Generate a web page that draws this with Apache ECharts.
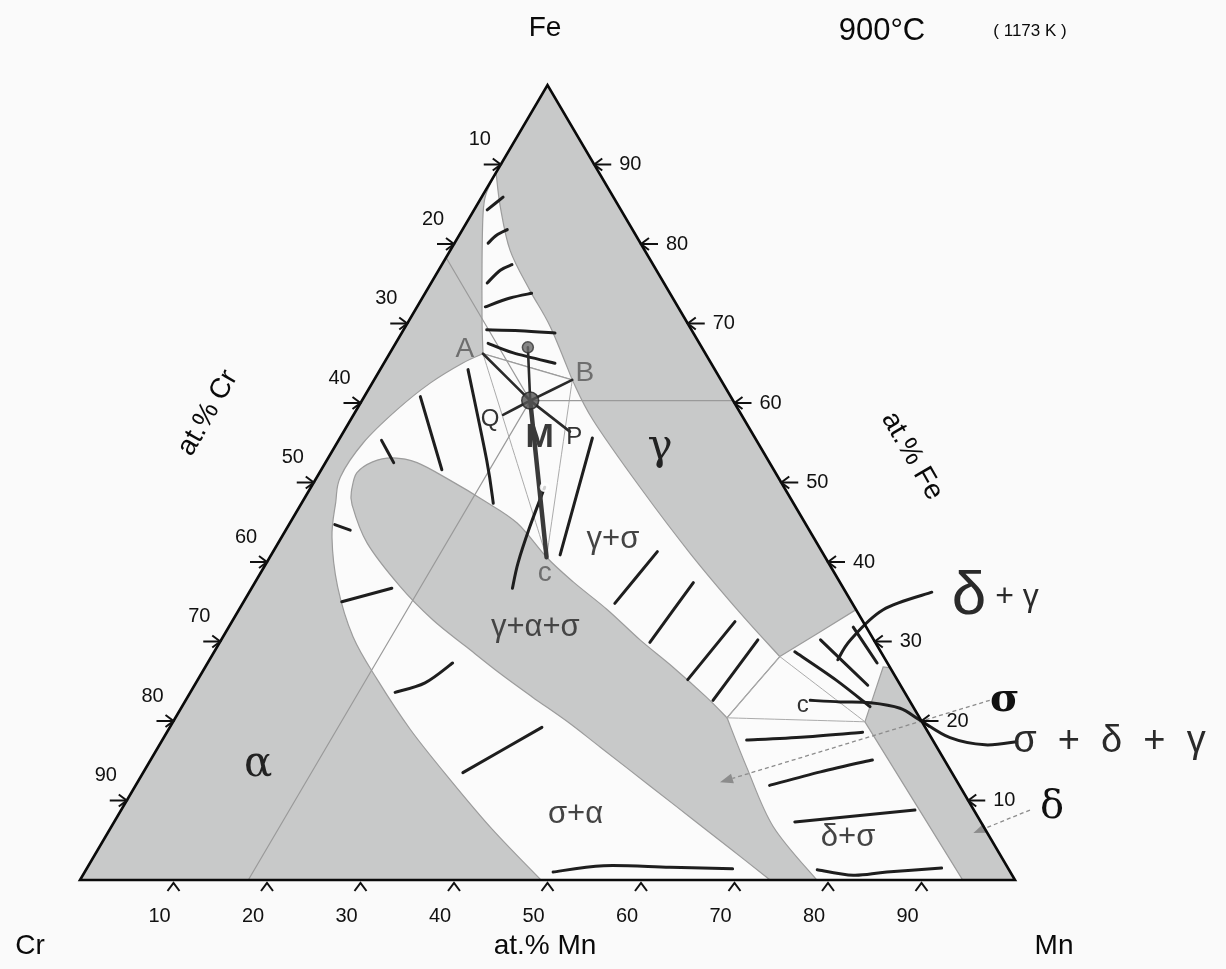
<!DOCTYPE html>
<html>
<head>
<meta charset="utf-8">
<script src="https://cdn.jsdelivr.net/npm/echarts@6/dist/echarts.min.js"></script>
<style>
html,body{margin:0;padding:0;background:#fafafa}
#chart{width:1226px;height:969px}
</style>
</head>
<body>
<div id="chart"></div>
<script>
// 成分点都写成 [at.% Mn, at.% Fe]，Cr = 100 - Mn - Fe
const edgeTicks = [10, 20, 30, 40, 50, 60, 70, 80, 90];

const ptA = [10, 66.2], ptB = [21.2, 62.9], ptC = [29.6, 40.6], ptM = [18, 60.3];
const sigmaCorner = [59, 20.4], gammaCorner = [60.8, 28.1], deltaCorner = [74, 19.9];
const deltaApex = [72.5, 26.8], deltaTop = [73.3, 26.7], gammaTop = [66, 34];

// α+γ 两相区
const alphaGammaLeft = [[0, 89], [0.3, 86.2], [1.3, 83.6], [4.0, 78.0], [7.8, 70.4], [10, 66.2]];
const alphaGammaRight = [[0, 89], [2.6, 84.7], [6.4, 79.2], [11.0, 74.2], [15.5, 69.6], [21.2, 62.9]];
// α 相边界（A 到 Cr-Mn 边）
const alphaEdge = [[10, 66.2], [8.4, 65.0], [6.2, 62.5], [4.3, 59.1], [2.8, 55.0], [2.5, 50.7], [3.6, 47.5],
  [5.4, 43.1], [9.1, 36.9], [13.9, 30.6], [19.2, 25.2], [25.9, 18.9], [33.3, 12.6], [41.0, 6.3], [49.3, 0]];
// σ 相边界
const sigmaLower = [[73.8, 0], [67.5, 4.0], [61.3, 7.9], [55.1, 11.8], [47.3, 16.7], [42.2, 19.9], [36.9, 23.0],
  [31.9, 26.0], [26.7, 29.3], [21.4, 32.7], [15.8, 36.9], [9.5, 42.4], [5.5, 47.2], [4.5, 49.1]];
const sigmaUpper = [[4.5, 49.1], [4.0, 51.2], [5.0, 52.6], [6.9, 53.1], [9.8, 52.5], [14.4, 50.3], [19.2, 47.8],
  [24.3, 44.9], [29.6, 40.6], [34.0, 37.5], [39.4, 34.0], [44.8, 30.2], [50.0, 26.8], [55.5, 23.0], [59, 20.4]];
const sigmaRight = [[59, 20.4], [64.2, 14.2], [70.8, 6.7], [78.8, 0]];
// γ 相边界（B 到三相点）
const gammaEdge = [[21.2, 62.9], [25.9, 57.9], [35.2, 49.4], [44.7, 41.1], [53.8, 33.6], [60.8, 28.1]];

// 手画的连结线
const handStrokes = [
  [[1.4, 84.3], [2.3, 85.9]],
  [[3.6, 80.1], [4.0, 81.1], [4.8, 81.8]],
  [[6.0, 75.1], [6.6, 76.7], [7.5, 77.4]],
  [[7.3, 72.1], [9.4, 73.2], [11.4, 73.8]],
  [[8.9, 69.2], [12.5, 69.1], [16.4, 68.8]],
  [[9.9, 67.5], [13.2, 66.3], [18.3, 65.0]],
  [[9.4, 64.2], [17.1, 52.8], [20.5, 47.4]],
  [[6.0, 60.8], [12.9, 51.6]],
  [[4.6, 55.3], [7.3, 52.5]],
  [[4.9, 44.7], [6.9, 44.0]],
  [[10.5, 35.0], [15.0, 36.7]],
  [[21.9, 23.6], [24.5, 24.8], [26.2, 27.3]],
  [[34.2, 13.5], [39.8, 19.2]],
  [[50.1, 1.0], [55.1, 1.8], [62.3, 1.6], [69.1, 1.4]],
  [[27.0, 55.6], [30.9, 40.9]],
  [[41.1, 41.3], [39.8, 34.8]],
  [[46.9, 37.4], [46.0, 29.9]],
  [[53.8, 32.5], [52.4, 25.2]],
  [[57.4, 30.2], [56.4, 22.6]],
  [[64.1, 30.2], [72.0, 24.5]],
  [[62.1, 28.7], [68.2, 25.2], [73.6, 21.8]],
  [[66.8, 31.8], [71.6, 27.3]],
  [[62.5, 17.6], [68.5, 18.0], [74.4, 18.6]],
  [[67.8, 11.9], [72.4, 13.6], [77.2, 15.1]],
  [[72.8, 7.3], [84.9, 8.8]],
  [[78.2, 1.3], [82.4, 0.6], [85.8, 1.0], [91.4, 1.5]],
  [[73.0, 36.2], [68.9, 34.0], [67.3, 30.2], [67.2, 27.7]],
  [[66.8, 22.6], [70.1, 22.4], [73.4, 22.3], [76.9, 21.6], [79.8, 20.1], [84.1, 17.9], [88.3, 17.0], [91.5, 17.4]],
  [[25.0, 49.4], [25.9, 44.4], [26.9, 39.9], [27.9, 36.7]]
];
// M 点连出的线
const mStrokes = [[ptM, ptA], [ptM, ptB], [ptM, [14.4, 67]], [ptM, [16.0, 58.5]], [ptM, [24.2, 56.4]]];
const mToC = [[ptM, ptC]];
// 读数用的细线
const guideLines = [[ptM, [39.7, 60.3]], [ptM, [18, 0]], [ptM, [0, 78.3]]];
const tieTriangles = [[ptA, ptC], [ptB, ptC], [gammaCorner, deltaCorner], [sigmaCorner, deltaCorner], [sigmaCorner, gammaCorner]];
const dottedArrows = [[[86, 22.6], [62.3, 12.3]], [[97.2, 8.8], [92.6, 5.9]]];

const printedLabels = [[11.8, 14.5, 'α'], [34.9, 54.3, 'γ']];
const printedSigma = [[87.6, 22.6, 'σ']];
const printedDelta = [[99.4, 9.1, 'δ']];
const letterLabels = [[7.8, 66.7, 'A'], [22.1, 63.8, 'B'], [30.4, 38.6, 'c']];
const smallHand = [[14.9, 57.9, 'Q'], [25.0, 55.7, 'P'], [66.3, 22.0, 'c']];
const phaseHand = [[35.6, 42.8, 'γ+σ'], [32.8, 31.8, 'γ+α+σ'], [48.9, 8.2, 'σ+α'], [79.5, 5.3, 'δ+σ']];
const outerHand = [[101.4, 17.4, 'σ  +  δ  +  γ']];
const deltaGammaLabel = [[80.1, 35.6, '{a|δ}{b| + γ}']];
const mLabel = [[21.3, 55.7, 'M']];

const GRAY = '#c8c9c9', WHITE = '#fbfbfb', EDGE = '#9c9c9c', INK = '#1e1e1e';
const S3 = Math.sqrt(3) / 2;
const toXY = p => [p[0] + p[1] / 2, p[1] * S3];

function splinePath(pts) {
  let d = '';
  for (let i = 0; i < pts.length - 1; i++) {
    const p0 = pts[i - 1] || pts[i], p1 = pts[i], p2 = pts[i + 1], p3 = pts[i + 2] || p2;
    d += ' C' + [p1[0] + (p2[0] - p0[0]) / 6, p1[1] + (p2[1] - p0[1]) / 6,
      p2[0] - (p3[0] - p1[0]) / 6, p2[1] - (p3[1] - p1[1]) / 6, p2[0], p2[1]]
      .map(v => v.toFixed(2)).join(' ');
  }
  return d;
}
function curvesPath(api, curves, close) {
  let d = '';
  curves.forEach((c, k) => {
    const pts = c.map(p => api.coord(toXY(p)));
    d += (k ? ' L' : 'M') + pts[0][0].toFixed(2) + ' ' + pts[0][1].toFixed(2) + splinePath(pts);
  });
  return close ? d + ' Z' : d;
}
function pathSeries(shapes, style, close, z) {
  return {
    type: 'custom', coordinateSystem: 'cartesian2d', silent: true, z: z,
    data: shapes.map((s, i) => [50, 40, i]),
    renderItem: (params, api) => ({
      type: 'path',
      shape: { pathData: curvesPath(api, shapes[params.dataIndex], close) },
      style: style
    })
  };
}
function textSeries(items, style, z) {
  return {
    type: 'custom', coordinateSystem: 'cartesian2d', silent: true, z: z || 40,
    data: items.map(t => toXY(t)),
    renderItem: (params, api) => {
      const p = api.coord([api.value(0), api.value(1)]);
      return { type: 'text', x: p[0], y: p[1],
        style: Object.assign({ text: items[params.dataIndex][2], align: 'center', verticalAlign: 'middle' }, style) };
    }
  };
}
function tickSeries(points, draw) {
  return {
    type: 'custom', coordinateSystem: 'cartesian2d', silent: true, z: 35,
    data: points.map(p => toXY(p)),
    renderItem: (params, api) => draw(api.coord([api.value(0), api.value(1)]), edgeTicks[params.dataIndex])
  };
}
const tickLine = { stroke: '#111', lineWidth: 2, fill: 'none' };
const tickFont = { font: '20px "Liberation Sans", Arial, sans-serif', fill: '#111', align: 'center', verticalAlign: 'middle' };

const triangle = [[[0, 0], [100, 0]], [[100, 0], [0, 100]], [[0, 100], [0, 0]]];
const regionStyle = { fill: WHITE, stroke: EDGE, lineWidth: 1.2 };

const series = [
  pathSeries([triangle], { fill: GRAY }, true, 1),
  pathSeries([[alphaGammaLeft, [ptA, ptB], alphaGammaRight.slice().reverse()]], regionStyle, true, 2),
  pathSeries([[alphaEdge, [[49.3, 0], [73.8, 0]], sigmaLower, sigmaUpper, [sigmaCorner, gammaCorner],
    gammaEdge.slice().reverse(), [ptB, ptA]]], regionStyle, true, 3),
  pathSeries([[[gammaCorner, gammaTop], [gammaTop, deltaTop], [deltaTop, deltaApex], [deltaApex, deltaCorner],
    [deltaCorner, [94.4, 0]], [[94.4, 0], [78.8, 0]], sigmaRight.slice().reverse(), [sigmaCorner, gammaCorner]]], regionStyle, true, 4),
  pathSeries(tieTriangles.map(s => [s]), { fill: 'none', stroke: '#ababab', lineWidth: 1 }, false, 5),
  pathSeries(guideLines.map(s => [s]), { fill: 'none', stroke: '#9a9a9a', lineWidth: 1.2 }, false, 6),
  {
    type: 'custom', coordinateSystem: 'cartesian2d', silent: true, z: 7,
    data: dottedArrows.map((a, i) => [50, 40, i]),
    renderItem: (params, api) => {
      const a = dottedArrows[params.dataIndex];
      const p = api.coord(toXY(a[0])), q = api.coord(toXY(a[1]));
      const dx = q[0] - p[0], dy = q[1] - p[1], L = Math.hypot(dx, dy), ux = dx / L, uy = dy / L;
      const b = [q[0] - ux * 13, q[1] - uy * 13];
      return { type: 'group', children: [
        { type: 'line', shape: { x1: p[0], y1: p[1], x2: b[0], y2: b[1] }, style: { stroke: '#8c8c8c', lineWidth: 1.3, lineDash: [4, 3] } },
        { type: 'polygon', shape: { points: [q, [b[0] - uy * 5, b[1] + ux * 5], [b[0] + uy * 5, b[1] - ux * 5]] }, style: { fill: '#8c8c8c' } }
      ] };
    }
  },
  pathSeries(handStrokes.map(s => [s]), { fill: 'none', stroke: INK, lineWidth: 3, lineCap: 'round', lineJoin: 'round' }, false, 8),
  pathSeries(mStrokes.map(s => [s]), { fill: 'none', stroke: '#2a2a2a', lineWidth: 2.6, lineCap: 'round' }, false, 9),
  pathSeries(mToC.map(s => [s]), { fill: 'none', stroke: '#3a3a3a', lineWidth: 4.5, lineCap: 'round' }, false, 9),
  {
    type: 'scatter', silent: true, z: 10, symbol: 'circle', symbolSize: 17,
    itemStyle: { color: '#555', borderColor: '#262626', borderWidth: 1.5 },
    data: [toXY(ptM)]
  },
  {
    type: 'scatter', silent: true, z: 10, symbol: 'circle', symbolSize: 11,
    itemStyle: { color: '#6a6a6a', borderColor: '#333', borderWidth: 1.5 },
    data: [toXY([14.4, 67])]
  },
  {
    type: 'scatter', silent: true, z: 10, symbol: 'emptyCircle', symbolSize: 8,
    itemStyle: { color: '#fff', borderColor: '#444', borderWidth: 1.5 },
    data: [toXY([25, 49.4])]
  },
  pathSeries([triangle], { fill: 'none', stroke: '#0a0a0a', lineWidth: 2.6, lineJoin: 'miter' }, true, 30),
  // 左边 Cr 刻度
  tickSeries(edgeTicks.map(c => [0, 100 - c]), (p, v) => ({ type: 'group', children: [
    { type: 'polyline', shape: { points: [[p[0] - 17, p[1]], [p[0], p[1]]] }, style: tickLine },
    { type: 'polyline', shape: { points: [[p[0] - 8, p[1] - 6], [p[0], p[1]], [p[0] - 8, p[1] + 6]] }, style: tickLine },
    { type: 'text', x: p[0] - 21, y: p[1] - 25, style: Object.assign({ text: String(v) }, tickFont) }
  ] })),
  // 右边 Fe 刻度
  tickSeries(edgeTicks.map(f => [100 - f, f]), (p, v) => ({ type: 'group', children: [
    { type: 'polyline', shape: { points: [[p[0], p[1]], [p[0] + 17, p[1]]] }, style: tickLine },
    { type: 'polyline', shape: { points: [[p[0] + 8, p[1] - 6], [p[0], p[1]], [p[0] + 8, p[1] + 6]] }, style: tickLine },
    { type: 'text', x: p[0] + 25, y: p[1], style: Object.assign({ text: String(v) }, tickFont, { align: 'left' }) }
  ] })),
  // 底边 Mn 刻度
  tickSeries(edgeTicks.map(m => [m, 0]), (p, v) => ({ type: 'group', children: [
    { type: 'polyline', shape: { points: [[p[0] - 6, p[1] + 11], [p[0], p[1] + 3], [p[0] + 6, p[1] + 11]] }, style: tickLine },
    { type: 'text', x: p[0] - 14, y: p[1] + 36, style: Object.assign({ text: String(v) }, tickFont) }
  ] })),
  textSeries(printedLabels, { font: '42px "DejaVu Serif", serif', fill: '#222' }),
  textSeries(printedSigma, { font: 'bold 40px "DejaVu Serif", serif', fill: '#111' }),
  textSeries(printedDelta, { font: '40px "DejaVu Serif", serif', fill: '#111' }),
  textSeries(letterLabels, { font: '28px "Liberation Sans", sans-serif', fill: '#6e6e6e' }),
  textSeries(smallHand, { font: '24px "Liberation Sans", sans-serif', fill: '#333' }),
  textSeries(phaseHand, { font: '31px "Liberation Sans", sans-serif', fill: '#444' }),
  textSeries(outerHand, { font: '38px "Liberation Sans", sans-serif', fill: '#2a2a2a' }),
  textSeries(mLabel, { font: 'bold 34px "Liberation Sans", sans-serif', fill: '#3a3a3a' }),
  textSeries(deltaGammaLabel, { rich: {
    a: { font: '62px "Liberation Sans", sans-serif', fill: '#2a2a2a' },
    b: { font: '32px "Liberation Sans", sans-serif', fill: '#2a2a2a' }
  } })
];

const titleFont = '28px "Liberation Sans", Arial, sans-serif';
const graphic = [
  ['Fe', 545, 28, titleFont, 0],
  ['900°C', 882, 31, '31px "Liberation Sans", Arial, sans-serif', 0],
  ['( 1173 K )', 1030, 31, '17px "Liberation Sans", Arial, sans-serif', 0],
  ['Cr', 30, 946, titleFont, 0],
  ['at.% Mn', 545, 946, titleFont, 0],
  ['Mn', 1054, 946, titleFont, 0],
  ['at.% Cr', 208, 413, titleFont, Math.PI / 3],
  ['at.% Fe', 912, 456, titleFont, -Math.PI / 3]
].map(t => ({
  type: 'text', x: t[1], y: t[2], rotation: t[4], silent: true,
  style: { text: t[0], font: t[3], fill: '#0a0a0a', align: 'center', verticalAlign: 'middle' }
}));

const chart = echarts.init(document.getElementById('chart'));
chart.setOption({
  backgroundColor: '#fafafa',
  animation: false,
  grid: { left: 80, right: 211, top: 85, bottom: 89 },
  xAxis: { type: 'value', min: 0, max: 100, show: false },
  yAxis: { type: 'value', min: 0, max: 100 * S3, show: false },
  graphic: graphic,
  series: series
});
</script>
</body>
</html>
